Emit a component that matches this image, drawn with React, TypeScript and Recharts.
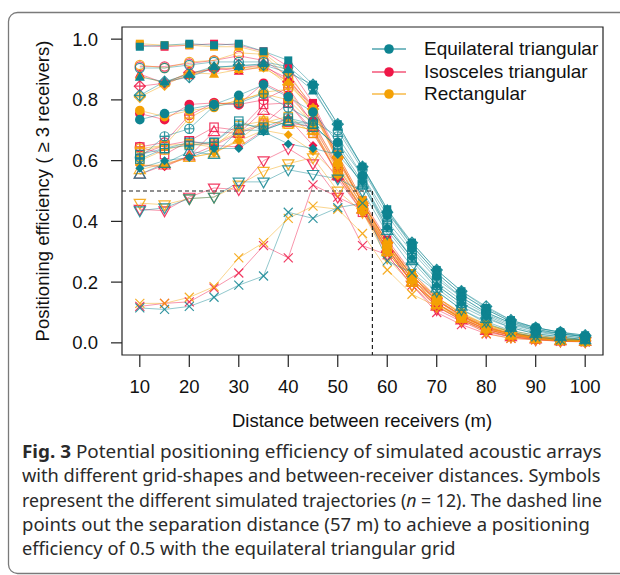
import React, { useLayoutEffect, useRef, useState } from "react";
import { LineChart, Line, XAxis, YAxis, ReferenceLine, ReferenceArea, Legend, Label } from "recharts";

// distances (m) and axis ticks
const distances = [10, 15, 20, 25, 30, 35, 40, 45, 50, 55, 60, 65, 70, 75, 80, 85, 90, 95, 100];
const xTicks = [10, 20, 30, 40, 50, 60, 70, 80, 90, 100];
const yTicks = [0, 0.2, 0.4, 0.6, 0.8, 1.0];

const gridNames = ["Equilateral triangular", "Isosceles triangular", "Rectangular"];
const gridColors = ["#0E8491", "#EF1747", "#F4A105"];

// one symbol per simulated trajectory (n = 12)
const symbols = ["fsquare", "ocircle", "ftri", "dplus", "fcircle", "cplus", "osquare", "splus", "fdiamond", "otri", "otridown", "cross"];

const equilateral = [
  [0.975, 0.98, 0.985, 0.98, 0.985, 0.96, 0.93, 0.85, 0.72, 0.58, 0.44, 0.33, 0.24, 0.17, 0.115, 0.075, 0.05, 0.035, 0.025],
  [0.905, 0.905, 0.915, 0.925, 0.925, 0.925, 0.91, 0.84, 0.70, 0.57, 0.43, 0.32, 0.23, 0.16, 0.11, 0.07, 0.05, 0.035, 0.02],
  [0.875, 0.86, 0.885, 0.91, 0.91, 0.92, 0.90, 0.83, 0.71, 0.58, 0.44, 0.32, 0.23, 0.16, 0.11, 0.07, 0.045, 0.03, 0.02],
  [0.815, 0.86, 0.875, 0.905, 0.915, 0.915, 0.89, 0.85, 0.72, 0.58, 0.43, 0.33, 0.24, 0.17, 0.12, 0.075, 0.05, 0.035, 0.025],
  [0.735, 0.755, 0.77, 0.785, 0.815, 0.85, 0.81, 0.76, 0.66, 0.55, 0.42, 0.31, 0.22, 0.15, 0.10, 0.065, 0.04, 0.03, 0.02],
  [0.61, 0.68, 0.705, 0.78, 0.79, 0.82, 0.775, 0.73, 0.68, 0.55, 0.40, 0.30, 0.21, 0.15, 0.10, 0.065, 0.045, 0.03, 0.02],
  [0.62, 0.64, 0.66, 0.66, 0.73, 0.70, 0.73, 0.71, 0.65, 0.53, 0.39, 0.28, 0.20, 0.14, 0.095, 0.06, 0.04, 0.025, 0.015],
  [0.605, 0.64, 0.65, 0.66, 0.72, 0.71, 0.74, 0.72, 0.64, 0.52, 0.38, 0.28, 0.19, 0.13, 0.09, 0.055, 0.035, 0.025, 0.015],
  [0.575, 0.60, 0.61, 0.64, 0.64, 0.695, 0.655, 0.64, 0.62, 0.53, 0.38, 0.28, 0.19, 0.13, 0.085, 0.05, 0.03, 0.02, 0.01],
  [0.555, 0.59, 0.63, 0.62, 0.70, 0.70, 0.73, 0.72, 0.64, 0.52, 0.37, 0.27, 0.18, 0.12, 0.08, 0.05, 0.03, 0.02, 0.01],
  [0.435, 0.445, 0.475, 0.48, 0.53, 0.53, 0.57, 0.555, 0.54, 0.50, 0.36, 0.25, 0.17, 0.11, 0.07, 0.04, 0.025, 0.015, 0.01],
  [0.115, 0.11, 0.12, 0.15, 0.19, 0.22, 0.43, 0.41, 0.445, 0.46, 0.27, 0.23, 0.17, 0.11, 0.065, 0.035, 0.02, 0.01, 0.01],
];

const isosceles = [
  [0.98, 0.975, 0.98, 0.985, 0.98, 0.96, 0.91, 0.79, 0.62, 0.47, 0.34, 0.23, 0.15, 0.095, 0.055, 0.03, 0.02, 0.012, 0.008],
  [0.91, 0.91, 0.92, 0.93, 0.945, 0.93, 0.88, 0.78, 0.61, 0.46, 0.33, 0.22, 0.14, 0.09, 0.05, 0.03, 0.02, 0.01, 0.008],
  [0.885, 0.855, 0.88, 0.905, 0.895, 0.91, 0.87, 0.77, 0.60, 0.46, 0.33, 0.22, 0.14, 0.09, 0.05, 0.03, 0.02, 0.01, 0.006],
  [0.845, 0.855, 0.89, 0.90, 0.905, 0.915, 0.86, 0.78, 0.61, 0.46, 0.33, 0.22, 0.145, 0.09, 0.05, 0.03, 0.018, 0.01, 0.006],
  [0.755, 0.735, 0.785, 0.79, 0.785, 0.855, 0.815, 0.73, 0.58, 0.45, 0.32, 0.21, 0.14, 0.085, 0.05, 0.03, 0.015, 0.01, 0.005],
  [0.645, 0.66, 0.75, 0.79, 0.785, 0.80, 0.84, 0.72, 0.57, 0.44, 0.32, 0.21, 0.13, 0.08, 0.045, 0.025, 0.015, 0.01, 0.005],
  [0.645, 0.62, 0.665, 0.71, 0.70, 0.785, 0.79, 0.69, 0.56, 0.44, 0.31, 0.20, 0.13, 0.08, 0.045, 0.025, 0.015, 0.008, 0.005],
  [0.62, 0.65, 0.665, 0.65, 0.69, 0.72, 0.79, 0.70, 0.55, 0.43, 0.31, 0.20, 0.13, 0.08, 0.045, 0.025, 0.015, 0.008, 0.005],
  [0.585, 0.58, 0.615, 0.65, 0.645, 0.70, 0.74, 0.65, 0.54, 0.43, 0.30, 0.20, 0.12, 0.075, 0.04, 0.02, 0.012, 0.007, 0.004],
  [0.555, 0.585, 0.615, 0.695, 0.69, 0.765, 0.725, 0.71, 0.55, 0.44, 0.31, 0.20, 0.12, 0.075, 0.04, 0.02, 0.012, 0.007, 0.004],
  [0.44, 0.435, 0.48, 0.51, 0.505, 0.60, 0.64, 0.59, 0.48, 0.44, 0.29, 0.19, 0.11, 0.07, 0.035, 0.02, 0.01, 0.006, 0.004],
  [0.12, 0.13, 0.135, 0.18, 0.23, 0.32, 0.28, 0.52, 0.48, 0.32, 0.29, 0.19, 0.10, 0.06, 0.03, 0.015, 0.01, 0.005, 0.003],
];

const rectangular = [
  [0.985, 0.98, 0.98, 0.975, 0.975, 0.955, 0.89, 0.77, 0.62, 0.47, 0.33, 0.23, 0.15, 0.10, 0.06, 0.04, 0.025, 0.015, 0.01],
  [0.915, 0.905, 0.925, 0.93, 0.955, 0.95, 0.87, 0.76, 0.61, 0.46, 0.32, 0.22, 0.15, 0.095, 0.06, 0.035, 0.02, 0.015, 0.01],
  [0.88, 0.855, 0.89, 0.885, 0.90, 0.905, 0.86, 0.76, 0.60, 0.46, 0.32, 0.22, 0.14, 0.09, 0.055, 0.035, 0.02, 0.012, 0.008],
  [0.81, 0.85, 0.885, 0.905, 0.905, 0.91, 0.85, 0.77, 0.61, 0.46, 0.33, 0.22, 0.15, 0.095, 0.06, 0.035, 0.02, 0.012, 0.008],
  [0.765, 0.745, 0.765, 0.775, 0.80, 0.82, 0.80, 0.72, 0.59, 0.45, 0.32, 0.21, 0.14, 0.09, 0.055, 0.03, 0.018, 0.01, 0.007],
  [0.64, 0.65, 0.74, 0.785, 0.795, 0.825, 0.835, 0.71, 0.58, 0.45, 0.31, 0.21, 0.14, 0.09, 0.05, 0.03, 0.018, 0.01, 0.006],
  [0.63, 0.65, 0.655, 0.645, 0.715, 0.73, 0.72, 0.70, 0.57, 0.44, 0.31, 0.21, 0.13, 0.085, 0.05, 0.03, 0.016, 0.01, 0.006],
  [0.60, 0.635, 0.655, 0.655, 0.695, 0.725, 0.745, 0.69, 0.56, 0.44, 0.30, 0.20, 0.13, 0.085, 0.05, 0.028, 0.015, 0.01, 0.005],
  [0.585, 0.585, 0.61, 0.625, 0.665, 0.70, 0.685, 0.63, 0.55, 0.43, 0.30, 0.20, 0.13, 0.08, 0.045, 0.025, 0.015, 0.008, 0.005],
  [0.57, 0.59, 0.61, 0.625, 0.67, 0.73, 0.72, 0.70, 0.56, 0.44, 0.30, 0.20, 0.125, 0.08, 0.045, 0.025, 0.015, 0.008, 0.005],
  [0.46, 0.455, 0.475, 0.48, 0.52, 0.565, 0.59, 0.61, 0.50, 0.43, 0.28, 0.19, 0.12, 0.075, 0.04, 0.02, 0.012, 0.007, 0.004],
  [0.13, 0.13, 0.15, 0.185, 0.28, 0.33, 0.41, 0.45, 0.44, 0.36, 0.24, 0.16, 0.12, 0.08, 0.03, 0.015, 0.01, 0.006, 0.004],
];

const captionLines = [
  "Potential positioning efficiency of simulated acoustic arrays",
  "with different grid-shapes and between-receiver distances. Symbols",
  "points out the separation distance (57 m) to achieve a positioning",
  "efficiency of 0.5 with the equilateral triangular grid",
];

const series = [
  { prefix: "i", rows: isosceles, color: gridColors[1] },
  { prefix: "r", rows: rectangular, color: gridColors[2] },
  { prefix: "e", rows: equilateral, color: gridColors[0] },
];

const data = distances.map((d, i) => {
  const row: any = { d };
  series.forEach((s) => s.rows.forEach((r, k) => (row[`${s.prefix}${k}`] = r[i])));
  return row;
});

const axisFont = "'Liberation Sans', Arial, sans-serif";
const axisSize = 18.5;

function Marker({ cx, cy, shape, color }: any) {
  if (cx == null || cy == null) return null;
  const sw = 1.2;
  const o = { fill: "none", stroke: color, strokeWidth: sw, strokeOpacity: 0.85 };
  switch (shape) {
    case "fsquare":
      return <rect x={cx - 4} y={cy - 4} width={8} height={8} fill={color} />;
    case "ocircle":
      return <circle cx={cx} cy={cy} r={4.6} {...o} />;
    case "ftri":
      return <polygon points={`${cx},${cy - 5.4} ${cx + 5},${cy + 3.6} ${cx - 5},${cy + 3.6}`} fill={color} />;
    case "dplus":
      return (
        <g>
          <polygon points={`${cx},${cy - 5.5} ${cx + 5.5},${cy} ${cx},${cy + 5.5} ${cx - 5.5},${cy}`} {...o} />
          <path d={`M${cx - 5.5},${cy}H${cx + 5.5}M${cx},${cy - 5.5}V${cy + 5.5}`} {...o} />
        </g>
      );
    case "fcircle":
      return <circle cx={cx} cy={cy} r={4.8} fill={color} />;
    case "cplus":
      return (
        <g>
          <circle cx={cx} cy={cy} r={4.6} {...o} />
          <path d={`M${cx - 4.6},${cy}H${cx + 4.6}M${cx},${cy - 4.6}V${cy + 4.6}`} {...o} />
        </g>
      );
    case "osquare":
      return <rect x={cx - 4.2} y={cy - 4.2} width={8.4} height={8.4} {...o} />;
    case "splus":
      return (
        <g>
          <rect x={cx - 4.2} y={cy - 4.2} width={8.4} height={8.4} {...o} />
          <path d={`M${cx - 4.2},${cy}H${cx + 4.2}M${cx},${cy - 4.2}V${cy + 4.2}`} {...o} />
        </g>
      );
    case "fdiamond":
      return <polygon points={`${cx},${cy - 4.5} ${cx + 4.5},${cy} ${cx},${cy + 4.5} ${cx - 4.5},${cy}`} fill={color} />;
    case "otri":
      return <polygon points={`${cx},${cy - 6} ${cx + 5.6},${cy + 3.8} ${cx - 5.6},${cy + 3.8}`} {...o} />;
    case "otridown":
      return <polygon points={`${cx},${cy + 6} ${cx + 5.6},${cy - 3.8} ${cx - 5.6},${cy - 3.8}`} {...o} />;
    case "cross":
      return <path d={`M${cx - 4.5},${cy - 4.5}L${cx + 4.5},${cy + 4.5}M${cx - 4.5},${cy + 4.5}L${cx + 4.5},${cy - 4.5}`} {...o} />;
    default:
      return null;
  }
}

function LegendBox() {
  return (
    <div style={{ fontFamily: axisFont, fontSize: 19, color: "#111" }}>
      {gridNames.map((name, i) => (
        <div key={name} style={{ display: "flex", alignItems: "center", height: 22.5, whiteSpace: "nowrap" }}>
          <svg width={52} height={22} style={{ display: "block", flex: "none" }}>
            <line x1={0} y1={11} x2={34} y2={11} stroke={gridColors[i]} strokeOpacity={0.55} strokeWidth={2} />
            <circle cx={17} cy={11} r={4.8} fill={gridColors[i]} />
          </svg>
          <span>{name}</span>
        </div>
      ))}
    </div>
  );
}

// caption line squeezed horizontally to the width it has in the figure
function CaptionLine({ top, width, children }: any) {
  const ref = useRef<HTMLDivElement>(null);
  const [scale, setScale] = useState(1);
  useLayoutEffect(() => {
    const w = ref.current ? ref.current.offsetWidth : 0;
    if (w) setScale(width / w);
  }, [width]);
  return (
    <div
      ref={ref}
      style={{
        position: "absolute",
        left: 22,
        top,
        whiteSpace: "nowrap",
        lineHeight: "24px",
        transform: `scaleX(${scale})`,
        transformOrigin: "0 0",
      }}
    >
      {children}
    </div>
  );
}

export default function App() {
  return (
    <div style={{ position: "absolute", left: 0, top: 0, width: 620, height: 575, overflow: "hidden", background: "#fff" }}>
      <svg width={620} height={575} style={{ position: "absolute", left: 0, top: 0 }}>
        <rect x={8.5} y={12.5} width={640} height={561} rx={9} fill="none" stroke="#7a7a7a" strokeWidth={1.3} />
      </svg>
      <div style={{ fontFamily: "'Noto Sans', 'Open Sans', sans-serif", fontSize: 18.5, color: "#2a2a2a" }}>
        <CaptionLine top={438.5} width={579}>
          <b>Fig. 3</b>
          {"  " + captionLines[0]}
        </CaptionLine>
        <CaptionLine top={463} width={578}>{captionLines[1]}</CaptionLine>
        <CaptionLine top={487.5} width={580}>
          {"represent the different simulated trajectories ("}
          <i>n</i>
          {" = 12). The dashed line"}
        </CaptionLine>
        <CaptionLine top={511.5} width={568}>{captionLines[2]}</CaptionLine>
        <CaptionLine top={536} width={433}>{captionLines[3]}</CaptionLine>
      </div>
      <div style={{ position: "absolute", left: 0, top: 0 }}>
        <LineChart width={620} height={440} data={data} margin={{ top: 27, right: 17, bottom: 45, left: 0 }}>
          <ReferenceArea x1={6.4} x2={103.6} y1={-0.04} y2={1.04} fill="none" stroke="#222" strokeWidth={1.2} />
          <XAxis
            dataKey="d"
            type="number"
            domain={[6.4, 103.6]}
            ticks={xTicks}
            interval={0}
            height={40}
            axisLine={false}
            tickSize={12}
            tickMargin={13}
            tickLine={{ stroke: "#222", strokeWidth: 1.2 }}
            tick={{ fill: "#111", fontSize: axisSize, fontFamily: axisFont }}
          >
            <Label
              content={() => (
                <text x={362} y={427} textAnchor="middle" fontSize={axisSize} fontFamily={axisFont} fill="#111">
                  Distance between receivers (m)
                </text>
              )}
            />
          </XAxis>
          <YAxis
            type="number"
            domain={[-0.04, 1.04]}
            ticks={yTicks}
            interval={0}
            width={122}
            axisLine={false}
            tickSize={11}
            tickMargin={13}
            tickFormatter={(v: number) => v.toFixed(1)}
            tickLine={{ stroke: "#222", strokeWidth: 1.2 }}
            tick={{ fill: "#111", fontSize: axisSize, fontFamily: axisFont }}
          >
            <Label
              content={() => (
                <text
                  x={42}
                  y={191}
                  transform="rotate(-90 42 191)"
                  textAnchor="middle"
                  dominantBaseline="central"
                  fontSize={axisSize}
                  fontFamily={axisFont}
                  fill="#111"
                >
                  Positioning efficiency ( ≥ 3 receivers)
                </text>
              )}
            />
          </YAxis>
          {series.map((s) =>
            s.rows.map((_, k) => (
              <Line
                key={`${s.prefix}${k}`}
                dataKey={`${s.prefix}${k}`}
                stroke={s.color}
                strokeOpacity={0.45}
                strokeWidth={1}
                isAnimationActive={false}
                activeDot={false}
                dot={(p: any) => <Marker key={`${s.prefix}${k}-${p.index}`} cx={p.cx} cy={p.cy} shape={symbols[k]} color={s.color} />}
              />
            ))
          )}
          <ReferenceLine segment={[{ x: 6.4, y: 0.5 }, { x: 57, y: 0.5 }]} stroke="#222" strokeWidth={1.2} strokeDasharray="4 3" />
          <ReferenceLine segment={[{ x: 57, y: 0.5 }, { x: 57, y: -0.04 }]} stroke="#222" strokeWidth={1.2} strokeDasharray="4 3" />
          <Legend
            layout="vertical"
            align="center"
            verticalAlign="middle"
            wrapperStyle={{ left: 372, top: 38, width: 245 }}
            content={() => <LegendBox />}
          />
        </LineChart>
      </div>
    </div>
  );
}
